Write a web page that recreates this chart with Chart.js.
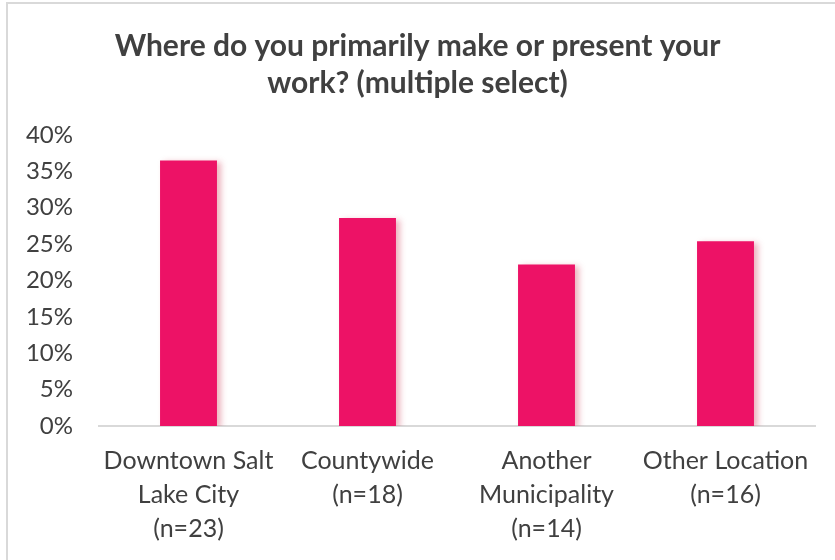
<!DOCTYPE html>
<html>
<head>
<meta charset="utf-8">
<script src="https://cdn.jsdelivr.net/npm/chart.js@4"></script>
<style>
  body { margin: 0; background: #fff; }
  #frame { position: absolute; left: 6px; top: 2px; width: 900px; height: 700px;
           border-left: 2px solid #d9d9d9; border-top: 2px solid #d9d9d9; }
  #wrap { position: absolute; left: 0; top: 0; width: 835px; height: 560px; }
</style>
</head>
<body>
<div id="frame"></div>
<div id="wrap"><canvas id="chart" width="835" height="560"></canvas></div>
<script>
// data
var categories = [
  ['Downtown Salt', 'Lake City', '(n=23)'],
  ['Countywide', '(n=18)'],
  ['Another', 'Municipality', '(n=14)'],
  ['Other Location', '(n=16)']
];
var shares = [36.5, 28.6, 22.2, 25.4];
var yTicks = [0, 5, 10, 15, 20, 25, 30, 35, 40];

var textColor = '#404040';
var fontFamily = 'Lato, "Open Sans", sans-serif';

var barShadow = {
  id: 'barShadow',
  beforeDatasetsDraw: function(chart) {
    var c = chart.ctx;
    c.save();
    c.shadowColor = 'rgba(200, 40, 70, 0.35)';
    c.shadowBlur = 6;
    c.shadowOffsetX = 4;
    c.shadowOffsetY = 2;
  },
  afterDatasetsDraw: function(chart) {
    chart.ctx.restore();
  }
};

new Chart(document.getElementById('chart'), {
  type: 'bar',
  data: {
    labels: categories,
    datasets: [{
      data: shares,
      backgroundColor: '#ED1266',
      categoryPercentage: 1,
      barPercentage: 0.318
    }]
  },
  options: {
    responsive: false,
    animation: false,
    layout: { padding: { left: 20, right: 20, top: 0, bottom: 0 } },
    plugins: {
      legend: { display: false },
      tooltip: { enabled: false },
      title: {
        display: true,
        text: ['Where do you primarily make or present your', 'work? (multiple select)'],
        color: textColor,
        font: { family: fontFamily, size: 30, weight: 'bold', lineHeight: 1.233 },
        padding: { top: 28, bottom: 33 }
      }
    },
    scales: {
      x: {
        grid: { display: false, drawTicks: false },
        border: { display: true, color: '#d9d9d9', width: 2 },
        ticks: {
          color: textColor,
          font: { family: fontFamily, size: 25, lineHeight: 1.36 },
          padding: 18,
          maxRotation: 0,
          autoSkip: false
        },
        afterFit: function(s) { s.height = 134; }
      },
      y: {
        min: 0,
        max: 40,
        grid: { display: false, drawTicks: false },
        border: { display: false },
        afterBuildTicks: function(s) {
          s.ticks = yTicks.map(function(v) { return { value: v }; });
        },
        ticks: {
          color: textColor,
          font: { family: fontFamily, size: 24 },
          padding: 26,
          callback: function(v) { return v + '%'; }
        },
        afterFit: function(s) { s.width = 79; }
      }
    }
  },
  plugins: [barShadow]
});
</script>
</body>
</html>
